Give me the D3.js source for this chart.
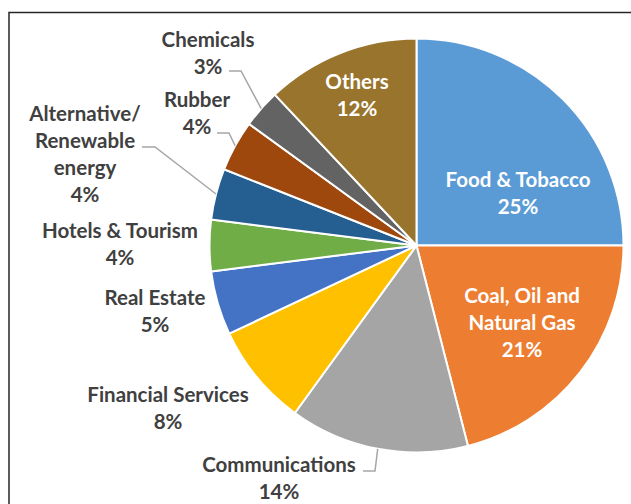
<!DOCTYPE html>
<html>
<head>
<meta charset="utf-8">
<script src="https://cdn.jsdelivr.net/npm/d3@7"></script>
<style>
  html, body { margin: 0; padding: 0; background: #fff; }
  svg { display: block; }
  text { font-family: Lato, "Open Sans", sans-serif; font-weight: 700; }
</style>
</head>
<body>
<svg id="chart" width="631" height="504"></svg>
<script>
// Sector shares (percent), clockwise from 12 o'clock
const sectors = ["Food & Tobacco", "Coal, Oil and Natural Gas", "Communications",
  "Financial Services", "Real Estate", "Hotels & Tourism",
  "Alternative/ Renewable energy", "Rubber", "Chemicals", "Others"];
const shares = [25, 21, 14, 8, 5, 4, 4, 4, 3, 12];
const colors = ["#5B9BD5", "#ED7D31", "#A5A5A5", "#FFC000", "#4472C4",
  "#70AD47", "#255E91", "#9E480E", "#636363", "#99742D"];
// Text lines of each data label
const labelLines = [
  ["Food & Tobacco"], ["Coal, Oil and", "Natural Gas"], ["Communications"],
  ["Financial Services"], ["Real Estate"], ["Hotels & Tourism"],
  ["Alternative/", "Renewable", "energy"], ["Rubber"], ["Chemicals"], ["Others"]
];

// Label layout: centre of first line, whether inside the pie, optional leader
const labelLayout = [
  { x: 518, y: 180, inside: true },
  { x: 522, y: 296, inside: true },
  { x: 279, y: 465, leader: { from: [363, 471], elbow: [375, 471] } },
  { x: 168, y: 395 },
  { x: 155, y: 298 },
  { x: 120, y: 231 },
  { x: 85, y: 114, leader: { from: [142, 147], elbow: [155, 147] } },
  { x: 197, y: 100, leader: { from: [217, 133], elbow: [229, 133] } },
  { x: 208, y: 40, leader: { from: [229, 71], elbow: [241, 71] } },
  { x: 357, y: 82, inside: true }
];

const svg = d3.select("#chart");
const cx = 416.5, cy = 245.5, radius = 207;
const lineH = 27;

// Frame (left and top edges visible)
svg.append("path")
  .attr("d", "M9,504 V12.5 H631")
  .attr("fill", "none")
  .attr("stroke", "#262626")
  .attr("stroke-width", 1.5);

const pie = d3.pie().sort(null).value(d => d).startAngle(0).endAngle(2 * Math.PI);
const arcs = pie(shares);
const arc = d3.arc().innerRadius(0).outerRadius(radius);

const g = svg.append("g").attr("transform", `translate(${cx},${cy})`);

g.selectAll("path.slice")
  .data(arcs)
  .join("path")
  .attr("class", "slice")
  .attr("d", arc)
  .attr("fill", (d, i) => colors[i])
  .attr("stroke", "#fff")
  .attr("stroke-width", 2)
  .attr("stroke-linejoin", "round");

// Leader lines: label -> elbow -> slice edge at mid-angle
arcs.forEach((d, i) => {
  const lay = labelLayout[i];
  if (!lay.leader) return;
  const mid = (d.startAngle + d.endAngle) / 2;
  const px = cx + radius * Math.sin(mid);
  const py = cy - radius * Math.cos(mid);
  svg.append("path")
    .attr("d", d3.line()([lay.leader.from, lay.leader.elbow, [px, py]]))
    .attr("fill", "none")
    .attr("stroke", "#A6A6A6")
    .attr("stroke-width", 1.5);
});

// Data labels: category name lines followed by percentage
arcs.forEach((d, i) => {
  const lay = labelLayout[i];
  const lines = labelLines[i].concat([d3.format(".0f")(d.data) + "%"]);
  const t = svg.append("text")
    .attr("text-anchor", "middle")
    .attr("font-size", 20.5)
    .attr("fill", lay.inside ? "#ffffff" : "#404040");
  lines.forEach((s, k) => {
    t.append("tspan")
      .attr("x", lay.x)
      .attr("y", lay.y + k * lineH + 7)
      .text(s);
  });
});
</script>
</body>
</html>
